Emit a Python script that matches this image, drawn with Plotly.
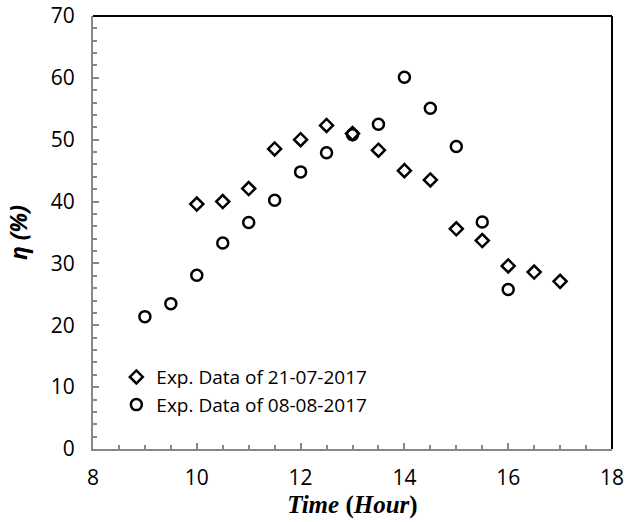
import plotly.graph_objects as go

time_a = [10, 10.5, 11, 11.5, 12, 12.5, 13, 13.5, 14, 14.5, 15, 15.5, 16, 16.5, 17]
eta_a = [39.6, 40.0, 42.1, 48.5, 50.0, 52.3, 51.0, 48.3, 45.0, 43.5, 35.6, 33.7, 29.6, 28.6, 27.1]

time_b = [9, 9.5, 10, 10.5, 11, 11.5, 12, 12.5, 13, 13.5, 14, 14.5, 15, 15.5, 16]
eta_b = [21.4, 23.5, 28.1, 33.3, 36.6, 40.2, 44.8, 47.9, 50.8, 52.5, 60.1, 55.1, 48.9, 36.7, 25.8]

name_a = "Exp. Data of 21-07-2017"
name_b = "Exp. Data of 08-08-2017"

font_fam = "Open Sans, Lato, sans-serif"

fig = go.Figure()
fig.add_trace(go.Scatter(x=time_a, y=eta_a, mode="markers", name=name_a,
                         marker=dict(symbol="diamond-open", size=10, color="black",
                                     line=dict(width=2.5, color="black"))))
fig.add_trace(go.Scatter(x=time_b, y=eta_b, mode="markers", name=name_b,
                         marker=dict(symbol="circle-open", size=11, color="black",
                                     line=dict(width=2.5, color="black"))))

fig.update_layout(
    width=626, height=522,
    margin=dict(l=93, r=14, t=16, b=73, autoexpand=False),
    paper_bgcolor="white", plot_bgcolor="white",
    font=dict(family=font_fam, size=21, color="black"),
    showlegend=True,
    legend=dict(x=0.045, y=0.21, xanchor="left", yanchor="top",
                bgcolor="rgba(0,0,0,0)", font=dict(size=19, family=font_fam),
                itemwidth=30, tracegroupgap=0),
    xaxis=dict(range=[8, 18], dtick=2, showgrid=False, zeroline=False,
               showline=True, linecolor="#888888", linewidth=2,
               ticks="inside", ticklen=6, tickcolor="#888888", tickwidth=1.5,
               minor=dict(dtick=0.5, ticks="inside", ticklen=4, tickcolor="#888888", tickwidth=1.5),
               ticklabelstandoff=9, automargin=False,
               title=dict(text="<b><i>Time</i> (<i>Hour</i>)</b>",
                          font=dict(family="Liberation Serif, serif", size=25), standoff=0)),
    yaxis=dict(range=[0, 70], dtick=10, showgrid=False, zeroline=False,
               showline=True, linecolor="#888888", linewidth=2,
               ticks="inside", ticklen=6, tickcolor="#888888", tickwidth=1.5,
               minor=dict(dtick=2, ticks="inside", ticklen=4, tickcolor="#888888", tickwidth=1.5),
               ticklabelstandoff=12, automargin=False,
               title=dict(text="<b><i>η (%)</i></b>",
                          font=dict(family=font_fam, size=23), standoff=17)),
    shapes=[
        dict(type="line", xref="paper", yref="paper", x0=0, x1=1, y0=1, y1=1,
             line=dict(color="black", width=2)),
        dict(type="line", xref="paper", yref="paper", x0=1, x1=1, y0=0, y1=1,
             line=dict(color="black", width=2)),
    ],
)

fig.write_html("out.html")
